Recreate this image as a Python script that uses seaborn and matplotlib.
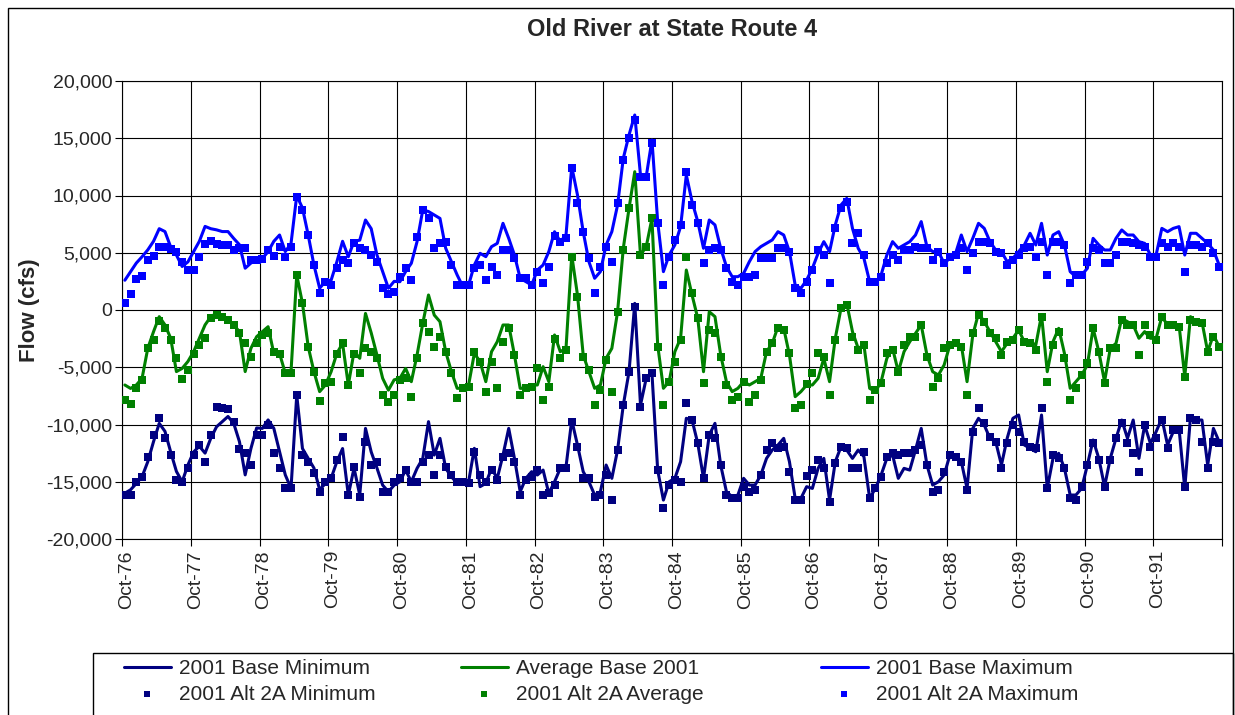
import numpy as np
import pandas as pd
import matplotlib.pyplot as plt
import seaborn as sns
from matplotlib.patches import Rectangle
from matplotlib.ticker import FuncFormatter

# monthly flows (cfs), Oct-76 .. Sep-92, one row of 24 per two water years
base_max = [
    2600, 3350, 4100, 4650, 5250, 6000, 7100, 6850, 5500, 4800, 3800, 4200, 5100, 6000, 7300, 7100, 7000, 6850, 6850, 6250, 5700, 3650, 4100, 4350,
    4500, 5100, 6000, 6550, 5100, 5800, 10000, 8900, 6550, 3930, 1900, 2500, 2600, 4200, 6000, 4650, 6000, 6100, 7860, 7100, 4800, 3350, 1900, 2500,
    2470, 3350, 4080, 5970, 8740, 8600, 8300, 8000, 5390, 4220, 3060, 2040, 2180, 3930, 4950, 4660, 5530, 5820, 7570, 6260, 4800, 2770, 2470, 2180,
    3490, 3930, 5100, 6840, 5970, 6550, 12520, 10050, 6840, 4220, 2770, 3350, 5680, 6840, 9170, 13250, 15290, 17030, 11790, 11650, 14850, 7720, 3350, 4800,
    5680, 7280, 11790, 9460, 7720, 5390, 7860, 7430, 5390, 3790, 2910, 2910, 3200, 4220, 5100, 5530, 5820, 6120, 6840, 6550, 5100, 2180, 1890, 2620,
    3640, 4950, 5970, 5100, 7430, 9170, 9750, 7130, 5390, 4510, 2470, 2330, 3060, 4800, 5970, 5390, 5680, 5970, 6550, 7720, 5530, 5100, 5100, 4080,
    4510, 4950, 6550, 5100, 6260, 7570, 7130, 5970, 5240, 5100, 4220, 4510, 5100, 5680, 6700, 5680, 7570, 4800, 6550, 6840, 5680, 3350, 2910, 3060,
    3640, 6260, 5680, 5240, 5240, 6260, 6990, 6550, 6550, 5970, 5820, 4800, 4800, 7130, 6840, 7130, 7280, 4800, 6700, 6700, 6260, 5820, 5240, 3930,
]
alt_max = [
    580, 1400, 2700, 3000, 4400, 4700, 5500, 5500, 5300, 5100, 4200, 3500, 3500, 4600, 5800, 6000, 5800, 5700, 5700, 5200, 5400, 5400, 4400, 4400,
    4450, 5200, 4700, 5500, 4650, 5500, 9900, 8750, 6550, 3930, 1450, 2450, 2150, 3640, 4370, 4080, 5850, 5400, 5250, 4800, 4200, 1950, 1400, 1600,
    2900, 3640, 2620, 6400, 8740, 8000, 5390, 5820, 5970, 3930, 2180, 2180, 2180, 3640, 3930, 2620, 3790, 3060, 5240, 5240, 4510, 2770, 2770, 2180,
    3350, 2330, 3790, 6500, 5970, 6260, 12380, 9320, 6840, 4510, 1460, 3790, 5530, 4220, 9320, 13100, 15000, 16600, 11650, 11650, 14560, 7570, 2180, 4660,
    6120, 7430, 12080, 9170, 7570, 4080, 5240, 5390, 5240, 3640, 2470, 2180, 2910, 2910, 3060, 4510, 4510, 4510, 5390, 5390, 5100, 1890, 1460, 2470,
    3490, 5240, 4800, 2330, 7130, 8880, 9460, 5820, 6700, 4800, 2470, 2470, 2910, 4080, 4800, 4370, 5240, 5240, 5530, 5390, 5390, 4370, 5100, 4080,
    4660, 4800, 5390, 3490, 4950, 5970, 5970, 5820, 5100, 4950, 3930, 4370, 4800, 5390, 5530, 4660, 5970, 3060, 5970, 5970, 5680, 2330, 3060, 3060,
    4220, 5390, 5240, 4080, 4080, 4800, 5970, 5970, 5820, 5680, 5530, 4660, 4660, 5820, 5530, 5820, 5530, 3350, 5680, 5680, 5530, 5820, 4950, 3790,
]
base_avg = [
    -6550, -6850, -6550, -5970, -3350, -1900, -580, -1300, -2470, -5380, -5100, -4500, -3640, -2470, -1300, -580, -290, -580, -870, -1300, -1900, -5380, -3350, -2330,
    -1900, -1460, -3790, -3790, -5530, -5390, 3060, 580, -3200, -5380, -7130, -6550, -5390, -3790, -2910, -6550, -3640, -4220, -300, -2000, -3930, -5970, -7000, -6100,
    -5970, -5100, -6260, -3930, -1160, 1310, -440, -1020, -3640, -5390, -6840, -6840, -6550, -3790, -4510, -6260, -3640, -2770, -1310, -1310, -3930, -6840, -6840, -6550,
    -6550, -4950, -6260, -2180, -3640, -3350, 4800, 1310, -3930, -5390, -6840, -6550, -4220, -3350, -150, 5390, 8880, 12080, 4800, 5530, 8000, -3060, -6840, -6260,
    -3640, -2470, 3490, 1310, -730, -5390, -150, -580, -3930, -6260, -7130, -6840, -6260, -6550, -6260, -5970, -3640, -2910, -1460, -1600, -3930, -7570, -7130, -6550,
    -6550, -5970, -4220, -6260, -2470, 150, 580, -1890, -3350, -3060, -6840, -7130, -6260, -4220, -3350, -5390, -3640, -2770, -2040, -1310, -3930, -5390, -5680, -4800,
    -3060, -2910, -3060, -6260, -2180, -290, -1020, -1890, -2770, -3640, -2910, -2470, -1750, -2770, -2770, -3060, -440, -5390, -2770, -1600, -3790, -6840, -6260, -5680,
    -4800, -1600, -3640, -6260, -3350, -2910, -730, -1020, -1310, -2470, -1890, -2470, -2470, -580, -1310, -1310, -1310, -5820, -580, -1020, -1020, -3640, -2180, -3200,
]
alt_avg = [
    -7860, -8240, -6850, -6100, -3350, -2600, -1000, -1600, -2600, -4200, -6000, -5240, -3800, -3050, -2470, -730, -440, -580, -870, -1300, -2040, -2900, -4080, -2900,
    -2200, -2040, -3640, -3800, -5530, -5530, 3050, 580, -3200, -5380, -7950, -6400, -6260, -3800, -2900, -6550, -3800, -5530, -3350, -3640, -4220, -7430, -8000, -7430,
    -6120, -5970, -7570, -4220, -1160, -1900, -3200, -2330, -3640, -5530, -7720, -6840, -6700, -3640, -4510, -7130, -4510, -6840, -2770, -1600, -3930, -7430, -6840, -6700,
    -5100, -7860, -6700, -2500, -4220, -3500, 4660, 1160, -4080, -5240, -8300, -6990, -4370, -7130, -150, 5240, 8900, np.nan, 4800, 5530, 8000, -3200, -8300, -6260,
    -4510, -2620, 4660, 1460, -730, -6400, -1750, -2040, -4080, -6550, -7860, -7570, -6260, -8000, -7430, -6120, -3640, -2910, -1600, -1750, -3790, -8590, -8300, -6500,
    -5530, -3790, -4080, -7430, -2620, 150, 440, -2330, -3500, -3060, -7860, -6990, -6400, -3790, -3500, -5390, -3060, -2330, -2330, -1310, -4080, -6700, -5970, -3350,
    -3060, -2910, -3200, -7430, -2040, -440, -1020, -2040, -2470, -3930, -2770, -2620, -1750, -2770, -2910, -3490, -580, -6260, -3060, -1890, -4220, -7860, -6840, -5680,
    -4660, -1600, -3640, -6400, -3350, -3350, -870, -1310, -1310, -3930, -1310, -2180, -2620, -580, -1310, -1310, -1460, -5820, -870, -1020, -1160, -3640, -2330, -3200,
]
base_min = [
    -16000, -15700, -15150, -14560, -13250, -11500, -9900, -10600, -12400, -14100, -15000, -13540, -12400, -11900, -12500, -11200, -10200, -9750, -9300, -9900, -11500, -14400, -12100, -10300,
    -10340, -9600, -10340, -12380, -14400, -15580, -7430, -12100, -12960, -13800, -15700, -15150, -14700, -13250, -12100, -16160, -13800, -16160, -10340, -12400, -13800, -15300, -15870, -15300,
    -15000, -13980, -15000, -13830, -12960, -9750, -12670, -11210, -13830, -14560, -15140, -15000, -15000, -12080, -15430, -15140, -13830, -14700, -12670, -10340, -12960, -15870, -14700, -14120,
    -14410, -13980, -16020, -15000, -13830, -13690, -9610, -11790, -14120, -15000, -16160, -15870, -13540, -14700, -12230, -8300, -5390, 580, -8300, -5970, -5530, -13980, -16600, -15000,
    -14700, -13250, -9460, -9610, -11650, -14700, -10920, -9900, -13540, -15870, -16310, -16160, -14700, -15290, -15290, -14410, -12960, -12230, -11790, -11210, -13250, -16450, -16450, -15430,
    -15580, -13830, -12960, -16600, -13250, -11940, -12230, -12960, -12230, -12810, -16450, -15580, -14410, -12960, -12670, -14700, -13830, -13980, -12230, -10340, -13540, -15290, -15000, -14410,
    -12670, -12670, -13250, -15580, -10340, -9460, -10050, -11210, -11500, -13540, -11210, -9460, -9170, -11790, -12080, -12380, -9170, -15580, -12960, -12520, -13830, -16160, -16160, -15580,
    -13540, -11350, -12960, -15430, -12960, -11210, -9610, -11210, -9610, -12960, -10050, -11650, -10630, -9460, -11790, -10630, -10340, -15580, -9320, -9610, -9610, -13540, -10340, -11500,
]
alt_min = [
    -16160, -16160, -15000, -14560, -12800, -10900, -9460, -11200, -12670, -14850, -15000, -13800, -12670, -11800, -13250, -10900, -8450, -8530, -8650, -9750, -12100, -12500, -13540, -10900,
    -10900, -10000, -12500, -13800, -15580, -15580, -7430, -12670, -13250, -14270, -15870, -15000, -14700, -13100, -11060, -16160, -13690, -16300, -11500, -13540, -13250, -15870, -15870, -15000,
    -14700, -13980, -15000, -15000, -13250, -12670, -14410, -12670, -13690, -14410, -15000, -15000, -15140, -12380, -14410, -15000, -13980, -14850, -12810, -12520, -13250, -16160, -14850, -14560,
    -14000, -16160, -16020, -15290, -13830, -13830, -9750, -11940, -14700, -14700, -16310, -16160, -14410, -16600, -12230, -8300, -5390, 290, -8440, -5970, -5530, -13980, -17330, -15290,
    -14850, -15000, -8150, -9610, -11650, -14700, -10920, -11210, -13540, -16160, -16450, -16450, -15430, -15870, -15720, -14410, -12230, -11650, -12080, -11940, -14120, -16600, -16600, -14500,
    -13980, -13100, -13830, -16740, -13390, -11940, -12080, -13830, -13830, -12380, -16450, -15580, -14560, -12810, -12520, -12670, -12520, -12520, -12230, -11790, -13540, -15870, -15720, -14120,
    -12670, -12810, -13250, -15720, -10630, -8590, -9900, -11060, -11500, -13830, -11650, -10050, -10630, -11500, -11940, -12080, -8590, -15580, -12670, -12960, -13830, -16450, -16600, -15500,
    -13540, -11650, -13100, -15430, -13100, -11210, -9900, -11650, -12520, -14120, -10050, -11940, -11210, -9610, -12080, -10480, -10480, -15430, -9460, -9610, -11500, -13830, -11500, -11650,
]
year_labels = ['Oct-76', 'Oct-77', 'Oct-78', 'Oct-79', 'Oct-80', 'Oct-81', 'Oct-82', 'Oct-83',
               'Oct-84', 'Oct-85', 'Oct-86', 'Oct-87', 'Oct-88', 'Oct-89', 'Oct-90', 'Oct-91']

df = pd.DataFrame({
    'month': np.arange(len(base_min)) + 0.5,
    'base_min': base_min, 'alt_min': alt_min,
    'base_avg': base_avg, 'alt_avg': alt_avg,
    'base_max': base_max, 'alt_max': alt_max,
})

sns.set_style('white')
plt.rcParams['font.family'] = ['Liberation Sans', 'DejaVu Sans']

W, H = 1235, 715
fig, ax = plt.subplots(figsize=(W / 100, H / 100), dpi=100)
fig.subplots_adjust(left=122 / W, right=1222 / W, top=1 - 81 / H, bottom=1 - 539 / H)

lines = [('base_min', '2001 Base Minimum', '#000080'),
         ('base_avg', 'Average Base 2001', '#008000'),
         ('base_max', '2001 Base Maximum', '#0000FF')]
points = [('alt_min', '2001 Alt 2A Minimum', '#000080'),
          ('alt_avg', '2001 Alt 2A Average', '#008000'),
          ('alt_max', '2001 Alt 2A Maximum', '#0000FF')]

for col, lab, c in lines:
    sns.lineplot(data=df, x='month', y=col, color=c, lw=2.2, ax=ax, label=lab, zorder=3)
for col, lab, c in points:
    sns.scatterplot(data=df, x='month', y=col, color=c, marker='s', s=34, linewidth=0,
                    ax=ax, label=lab, zorder=4)

ax.set_xlim(0, 192)
ax.set_ylim(-20000, 20000)
ax.set_yticks(np.arange(-20000, 20001, 5000))
ax.yaxis.set_major_formatter(FuncFormatter(lambda v, p: f'{v:,.0f}'))
ax.set_xticks(np.arange(0, 193, 12))
ax.set_xticklabels([])
ax.set_xticks(np.arange(len(year_labels)) * 12 + 0.8, minor=True)
ax.set_xticklabels(year_labels, minor=True, rotation=90, fontsize=14)
ax.tick_params(axis='x', which='minor', length=0, pad=8)
ax.tick_params(axis='x', which='major', length=5, width=0.8, color='black', direction='out', bottom=True)
ax.tick_params(axis='y', length=5, width=0.8, color='black', direction='out', left=True, labelsize=14, pad=2)
ax.grid(True, which='major', color='black', lw=0.8)
for s in ax.spines.values():
    s.set_color('black')
    s.set_linewidth(0.8)
ax.set_xlabel('')
ax.set_ylabel('')

fig.text(672 / W, 1 - 30 / H, 'Old River at State Route 4', ha='center', va='center',
         fontsize=17, fontweight='bold')
fig.text(30 / W, 1 - 310 / H, 'Flow (cfs)', ha='center', va='center', rotation=90,
         fontsize=16, fontweight='bold')

# legend: one two-row column per statistic, placed like the original grid
h, l = ax.get_legend_handles_labels()
ax.get_legend().remove()
col_x = [124, 461, 821]
for j in range(3):
    fig.legend([h[j], h[j + 3]], [l[j], l[j + 3]], loc='upper left',
               bbox_to_anchor=(col_x[j] / W, 1 - 659 / H), frameon=False, fontsize=15,
               handlelength=2.25, handletextpad=0.4, borderpad=0, borderaxespad=0,
               labelspacing=0.32, markerscale=0.8)

fig.patches.append(Rectangle((93 / W, -0.05), (1233 - 93) / W, 1 - 653 / H + 0.05,
                             transform=fig.transFigure, fill=False, ec='black', lw=1))
fig.patches.append(Rectangle((8 / W, -0.05), (1233 - 8) / W, 1 - 8 / H + 0.05,
                             transform=fig.transFigure, fill=False, ec='black', lw=1))

fig.savefig('out.png', dpi=100)
